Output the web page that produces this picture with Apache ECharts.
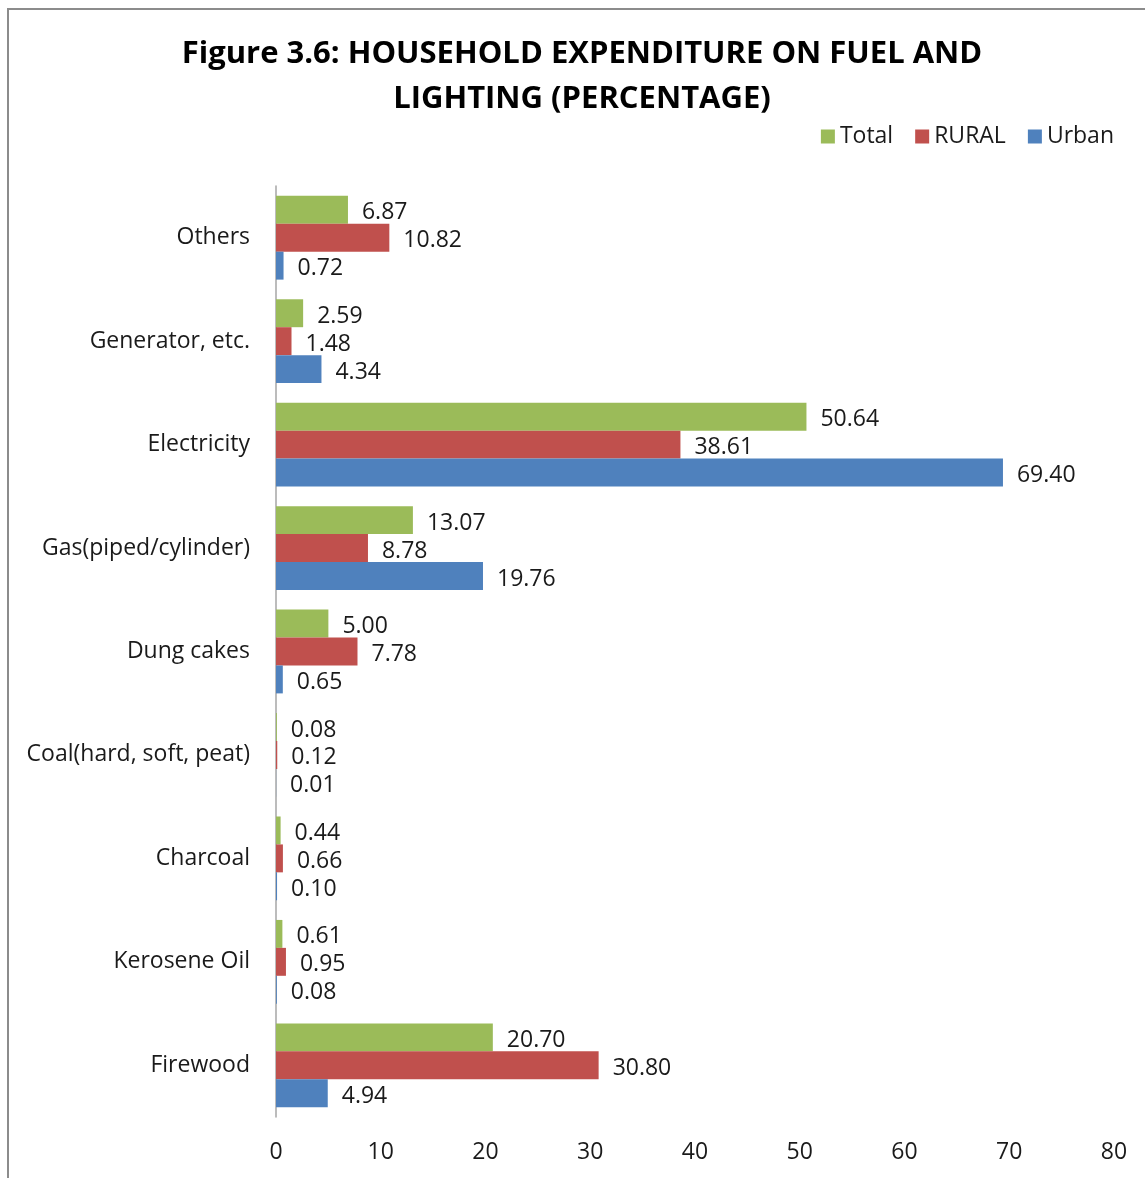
<!DOCTYPE html>
<html>
<head>
<meta charset="utf-8">
<script src="https://cdn.jsdelivr.net/npm/echarts@6/dist/echarts.min.js"></script>
<style>
html,body{margin:0;padding:0;background:#fff;}
#frame{position:absolute;left:7px;top:8px;width:1150px;height:1180px;border-left:2px solid #8c8c8c;border-top:2px solid #8c8c8c;box-sizing:border-box;}
#chart{position:absolute;left:0;top:0;width:1145px;height:1178px;}
</style>
</head>
<body>
<div id="frame"></div>
<div id="chart"></div>
<script>
var categories = ['Firewood','Kerosene Oil','Charcoal','Coal(hard, soft, peat)','Dung cakes','Gas(piped/cylinder)','Electricity','Generator, etc.','Others'];
var urban = [4.94, 0.08, 0.10, 0.01, 0.65, 19.76, 69.40, 4.34, 0.72];
var rural = [30.80, 0.95, 0.66, 0.12, 7.78, 8.78, 38.61, 1.48, 10.82];
var total = [20.70, 0.61, 0.44, 0.08, 5.00, 13.07, 50.64, 2.59, 6.87];
var xTicks = [0, 10, 20, 30, 40, 50, 60, 70, 80];

var FONT = '"Open Sans", "Noto Sans", sans-serif';
var chart = echarts.init(document.getElementById('chart'));
function lbl(){
  return {show:true, position:'right', distance:14, color:'#1a1a1a', fontSize:23, fontFamily:FONT,
    offset:[0,3],
    formatter:function(p){return p.value.toFixed(2);}};
}
chart.setOption({
  animation:false,
  title:{text:'Figure 3.6: HOUSEHOLD EXPENDITURE ON FUEL AND\nLIGHTING (PERCENTAGE)', left:577, textAlign:'center', top:27,
    textStyle:{fontSize:31, fontWeight:'bold', fontFamily:FONT, color:'#000', lineHeight:45}},
  legend:{data:['Total','RURAL','Urban'], right:26, top:120, itemWidth:14, itemHeight:14, itemGap:22,
    textStyle:{fontSize:23, fontFamily:FONT, color:'#1a1a1a'}, icon:'rect'},
  grid:{left:276, right:31, top:186, bottom:61, containLabel:false},
  xAxis:{type:'value', min:0, max:80, interval:10,
    axisLine:{show:false}, axisTick:{show:false}, splitLine:{show:false},
    axisLabel:{fontSize:23, fontFamily:FONT, color:'#1a1a1a', margin:24}},
  yAxis:{type:'category', data:categories,
    axisLine:{show:true, lineStyle:{color:'#a6a6a6', width:1.5}}, axisTick:{show:false},
    axisLabel:{fontSize:23, fontFamily:FONT, color:'#1a1a1a', margin:26}},
  series:[
    {name:'Total', type:'bar', data:total, itemStyle:{color:'#9BBB59'}, barGap:'0%', barCategoryGap:'19%', label:lbl()},
    {name:'RURAL', type:'bar', data:rural, itemStyle:{color:'#C0504D'}, barGap:'0%', barCategoryGap:'19%', label:lbl()},
    {name:'Urban', type:'bar', data:urban, itemStyle:{color:'#4F81BD'}, barGap:'0%', barCategoryGap:'19%', label:lbl()}
  ]
});
</script>
</body>
</html>
